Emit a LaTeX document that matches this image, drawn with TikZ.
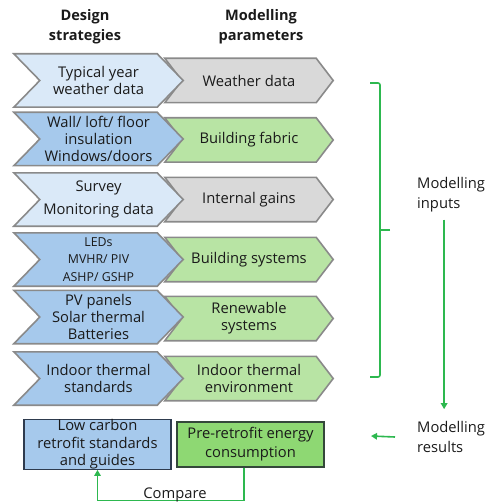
\documentclass[tikz,border=0pt]{standalone}
\usepackage{fontspec}
\setmainfont{Open Sans}
\usetikzlibrary{calc,backgrounds,arrows.meta}

\definecolor{paleblue}{HTML}{DAE9F8}
\definecolor{midblue}{HTML}{A6C9EC}
\definecolor{palegray}{HTML}{D9D9D9}
\definecolor{palegreen}{HTML}{B8E4A4}
\definecolor{brightgreen}{HTML}{8ED873}
\definecolor{edgegray}{HTML}{8A8A8A}
\definecolor{flowgreen}{HTML}{2DB84F}
\definecolor{ink}{HTML}{1A1A1A}
\definecolor{navyedge}{HTML}{2E3B4E}
\definecolor{greenedge}{HTML}{34483A}

% chevron outline drawn round a named node: #1 node, #2 notch depth, #3 style
\newcommand\chevron[3]{%
  \path[#3] (#1.north west) -- ([xshift=-#2]#1.north east) -- (#1.east)
    -- ([xshift=-#2]#1.south east) -- (#1.south west) -- ([xshift=#2]#1.west) -- cycle;}

\tikzset{
  lbl/.style={font=\fontsize{14.8}{16.8}\selectfont, text=ink, align=center, inner sep=0pt},
  head/.style={lbl, font=\bfseries\fontsize{14.6}{20}\selectfont},
  strat/.style={lbl, minimum width=169bp, minimum height=53bp},
  param/.style={lbl, minimum width=168bp, minimum height=44bp},
  chevfill/.style={draw=edgegray, line width=1.6bp, line join=miter, fill=#1},
  resultbox/.style={lbl, line width=1.2bp, minimum width=147bp, minimum height=45bp},
  note/.style={lbl, align=left, anchor=west, font=\fontsize{14.8}{20}\selectfont},
  flow/.style={draw=flowgreen, line width=1.6bp},
  tip/.style={-{Triangle[length=6bp,width=6.5bp]}},
}

\begin{document}
\begin{tikzpicture}[x=1bp, y=-1bp]
\useasboundingbox (0,0) rectangle (492,502);

% column headings
\node[head] (hd) at (85,27) {Design\\strategies};
\node[head] (hm) at (261,27) {Modelling\\parameters};

% design strategies
\node[strat] (s1) at (98.5,80.5) {Typical year\\weather data};
\node[strat] (s2) at (98.5,139) {Wall/ loft/ floor\\insulation\\Windows/doors};
\node[strat] (s3) at (98.5,199.5) {Survey\\[7bp]Monitoring data};
\node[strat, font=\fontsize{12.4}{17.5}\selectfont] (s4) at (98.5,259.5) {LEDs\\MVHR/ PIV\\ASHP/ GSHP};
\node[strat] (s5) at (98.5,317) {PV panels\\Solar thermal\\Batteries};
\node[strat] (s6) at (98.5,378.5) {Indoor thermal\\standards};

% modelling parameters
\node[param] (p1) at (249,80.5) {Weather data};
\node[param] (p2) at (249,140) {Building fabric};
\node[param] (p3) at (249,199.5) {Internal gains};
\node[param] (p4) at (249,259.5) {Building systems};
\node[param] (p5) at (249,318.5) {Renewable\\systems};
\node[param] (p6) at (249,378.5) {Indoor thermal\\environment};

\begin{scope}[on background layer]
  \foreach \n/\c in {p1/palegray, p2/palegreen, p3/palegray, p4/palegreen, p5/palegreen, p6/palegreen}
    {\chevron{\n}{17bp}{chevfill=\c}}
  \foreach \n/\c in {s1/paleblue, s2/midblue, s3/paleblue, s4/midblue, s5/midblue, s6/midblue}
    {\chevron{\n}{26bp}{chevfill=\c}}
\end{scope}

% results row
\node[resultbox, draw=navyedge, fill=midblue, font=\fontsize{14.8}{17.5}\selectfont] (lc) at (97.5,444.5)
  {Low carbon\\retrofit standards\\and guides};
\node[resultbox, draw=greenedge, fill=brightgreen, font=\fontsize{14.8}{19}\selectfont] (pre) at (250.5,444.5)
  {Pre-retrofit energy\\consumption};

% side notes
\node[note] (mi) at (417,195) {Modelling\\inputs};
\node[note] (mr) at (417,437) {Modelling\\results};

% bracket grouping the modelling parameters
\coordinate (bt) at (370,83);
\coordinate (bb) at (370,377);
\coordinate (bm) at (390,230);
\draw[flow, rounded corners=2bp] (bt) -- ++(10,0) -- ($(bb)+(10,0)$) -- (bb);
\draw[flow] (bm) -- ++(-10,0);

% inputs lead to results
\draw[flow, tip] ([xshift=-7bp, yshift=-7bp]mi.south) -- ([xshift=-7bp, yshift=12bp]mr.north);
\coordinate (rl) at (371,436);
\draw[flow, tip] ([xshift=-22bp]mr.west) -- (rl);

% comparison loop
\draw[flow, tip] ([xshift=-6.5bp]pre.south) -- ++(0,33) -| (lc.south);
\node[lbl, anchor=base] (cmp) at (175,498.5) {Compare};
\end{tikzpicture}
\end{document}
